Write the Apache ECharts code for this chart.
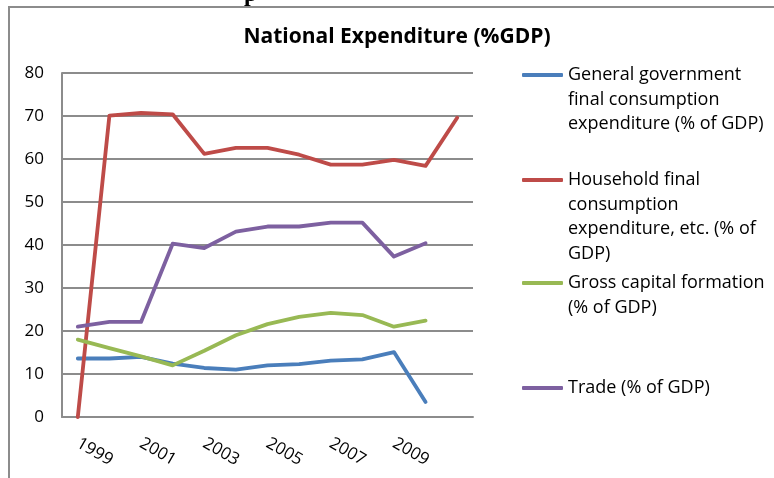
<!DOCTYPE html>
<html>
<head>
<meta charset="utf-8">
<script src="https://cdn.jsdelivr.net/npm/echarts@6/dist/echarts.min.js"></script>
<style>
html,body{margin:0;padding:0;background:#fff;}
#chart{width:774px;height:478px;}
</style>
</head>
<body>
<div id="chart"></div>
<script>
// ---- data ----
const categories = ['1999','2000','2001','2002','2003','2004','2005','2006','2007','2008','2009','2010',''];
const yTicks = [0,10,20,30,40,50,60,70,80];
const govConsumption = [13.6,13.6,14.0,12.4,11.4,11.0,12.0,12.3,13.1,13.4,15.1,3.5,null];
const householdConsumption = [0,70.1,70.7,70.4,61.2,62.6,62.6,61.0,58.7,58.7,59.8,58.4,69.6];
const grossCapital = [18.0,16.0,14.1,12.0,15.4,19.0,21.6,23.3,24.2,23.7,21.0,22.4,null];
const trade = [21.0,22.1,22.1,40.3,39.3,43.1,44.3,44.3,45.2,45.2,37.3,40.4,null];
const seriesNames = [
  'General government final consumption expenditure (% of GDP)',
  'Household final consumption expenditure, etc. (% of GDP)',
  'Gross capital formation (% of GDP)',
  'Trade (% of GDP)'
];
const legendLines = [
  ['General government','final consumption','expenditure (% of GDP)'],
  ['Household final','consumption','expenditure, etc. (% of','GDP)'],
  ['Gross capital formation','(% of GDP)'],
  ['Trade (% of GDP)']
];
const chartTitle = 'National Expenditure (%GDP)';
// ---- chart ----
const colors = ['#4a7ebb','#be4b48','#98b954','#7d60a0'];
const seriesData = [govConsumption, householdConsumption, grossCapital, trade];
const FONT = '"Open Sans", sans-serif';
const LH = 24.5;
const legendCenters = [75, 180, 283, 388];

const chart = echarts.init(document.getElementById('chart'), null, {renderer:'canvas'});
const legends = seriesNames.map((nm, i) => {
  const n = legendLines[i].length;
  const boxH = (2*n - 1) * LH;
  const blank = new Array(n - 1).fill(' ');
  return {
    show: true,
    data: [nm],
    orient: 'vertical',
    left: 522,
    top: legendCenters[i] - boxH/2,
    padding: 0,
    itemWidth: 41,
    itemHeight: 4,
    icon: 'roundRect',
    selectedMode: false,
    formatter: () => blank.concat(legendLines[i]).join('\n'),
    textStyle: {
      fontFamily: FONT, fontSize: 18, color: '#000',
      lineHeight: LH
    }
  };
});

const option = {
  backgroundColor: '#ffffff',
  animation: false,
  title: {
    text: chartTitle,
    left: 392, textAlign: 'center',
    top: 22,
    textStyle: {fontFamily: FONT, fontWeight: 'bold', fontSize: 21, color: '#000'}
  },
  legend: legends,
  grid: {left: 62, top: 73, right: 301, bottom: 61, containLabel: false},
  xAxis: {
    type: 'category',
    data: categories,
    boundaryGap: true,
    axisLine: {show: true, lineStyle: {color: '#8c8c8c', width: 2}},
    axisTick: {show: false},
    axisLabel: {
      interval: 1, rotate: -30, margin: 25,
      fontFamily: FONT, fontSize: 17, color: '#000'
    },
    splitLine: {show: false}
  },
  yAxis: {
    type: 'value',
    min: yTicks[0], max: yTicks[yTicks.length-1], interval: 10,
    axisLine: {show: true, lineStyle: {color: '#8c8c8c', width: 2}},
    axisTick: {show: false},
    axisLabel: {margin: 18, fontFamily: FONT, fontSize: 17, color: '#000'},
    splitLine: {show: true, lineStyle: {color: '#8c8c8c', width: 2}}
  },
  series: seriesNames.map((nm, i) => ({
    name: nm,
    type: 'line',
    data: seriesData[i],
    color: colors[i],
    showSymbol: false,
    symbol: 'none',
    lineStyle: {width: 3.8, color: colors[i], cap: 'round', join: 'round'},
    connectNulls: false
  })),
  graphic: [
    {
      type: 'polyline', silent: true,
      shape: {points: [[9, 490], [9, 7], [790, 7]]},
      style: {stroke: '#8c8c8c', lineWidth: 2, fill: null}
    },
    {
      type: 'text', silent: true,
      left: 244, top: -17,
      style: {text: 'p', font: 'bold 24px "Liberation Serif", serif', fill: '#000'}
    }
  ]
};
chart.setOption(option);
</script>
</body>
</html>
